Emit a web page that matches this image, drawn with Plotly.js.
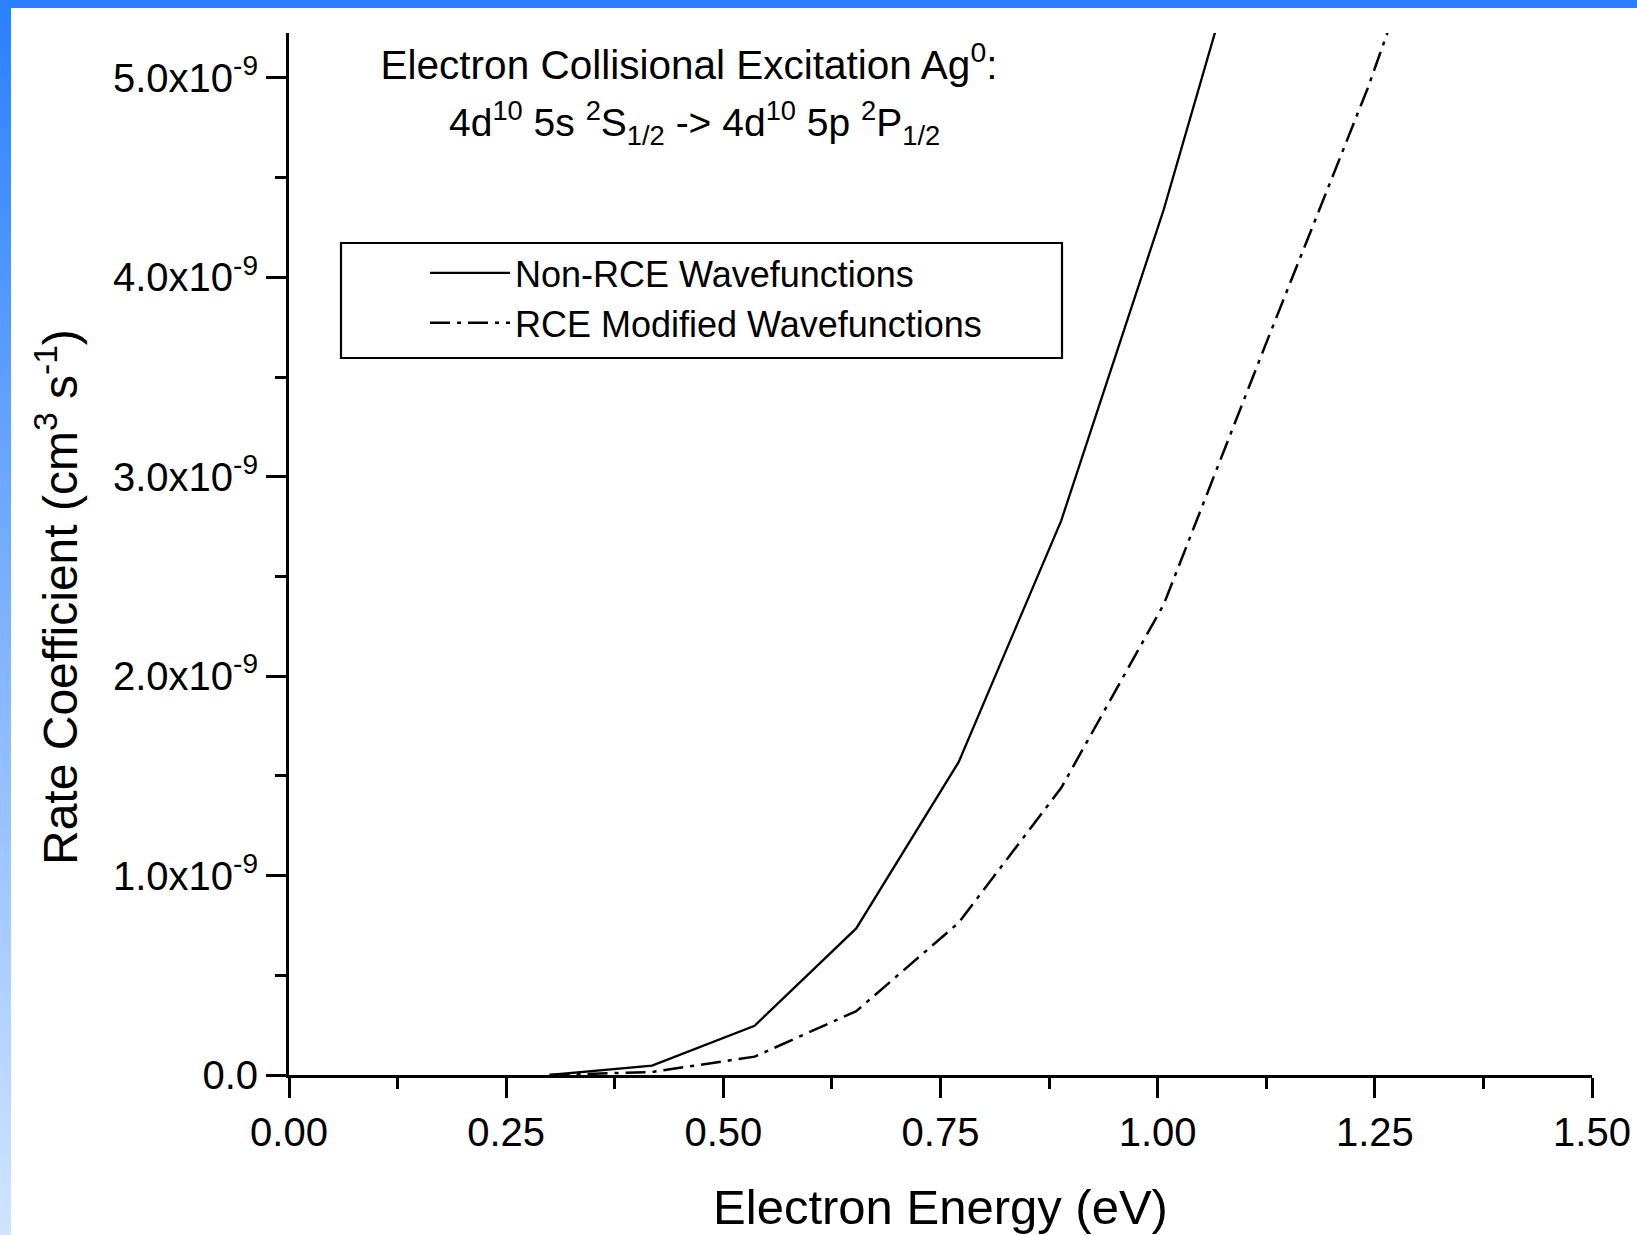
<!DOCTYPE html>
<html>
<head>
<meta charset="utf-8">
<script src="https://cdn.plot.ly/plotly-3.0.1.min.js"></script>
<style>
  html, body { margin: 0; padding: 0; width: 1637px; height: 1235px; overflow: hidden; }
  body {
    background:
      linear-gradient(#2a80ff, #2a80ff) top left / 100% 8px no-repeat,
      linear-gradient(to bottom, #2a80ff, #d0e4ff) top left / 11px 100% no-repeat,
      #ffffff;
  }
  #chart { position: absolute; left: 0; top: 0; width: 1637px; height: 1235px; }
</style>
</head>
<body>
<div id="chart"></div>
<script>
// ---- data ----
const energy = [0.300, 0.418, 0.536, 0.653, 0.771, 0.889, 1.007, 1.124, 1.242, 1.360];
const nonRCE = [0, 0.047e-9, 0.247e-9, 0.735e-9, 1.57e-9, 2.78e-9, 4.34e-9, 6.10e-9];
const rceModified = [0, 0.015e-9, 0.092e-9, 0.32e-9, 0.764e-9, 1.44e-9, 2.36e-9, 3.66e-9, 4.95e-9, 6.40e-9];
const seriesNames = ["Non-RCE Wavefunctions", "RCE Modified Wavefunctions"];
const xTickVals = [0, 0.25, 0.5, 0.75, 1.0, 1.25, 1.5];
const yTickVals = [0, 1e-9, 2e-9, 3e-9, 4e-9, 5e-9];
const yTickText = ["0.0", "1.0x10<sup>-9</sup>", "2.0x10<sup>-9</sup>", "3.0x10<sup>-9</sup>", "4.0x10<sup>-9</sup>", "5.0x10<sup>-9</sup>"];
const titleLine1 = "Electron Collisional Excitation Ag<sup>0</sup>:";
const titleLine2 = "4d<sup>10</sup> 5s <sup>2</sup>S<sub>1/2</sub> -> 4d<sup>10</sup> 5p <sup>2</sup>P<sub>1/2</sub>";
const xTitle = "Electron Energy (eV)";
const yTitle = "Rate Coefficient (cm<sup>3</sup> s<sup>-1</sup>)";

const FONT = '"Liberation Sans", Arial, Helvetica, sans-serif';

const traces = [
  {
    x: energy.slice(0, nonRCE.length), y: nonRCE, name: seriesNames[0],
    type: 'scatter', mode: 'lines',
    line: { color: '#000', width: 2.3 }
  },
  {
    x: energy.slice(0, rceModified.length), y: rceModified, name: seriesNames[1],
    type: 'scatter', mode: 'lines',
    line: { color: '#000', width: 2.5, dash: '20px,7px,4px,7px' }
  }
];

const axisCommon = {
  ticks: 'outside', ticklen: 20, tickwidth: 3, tickcolor: '#000',
  showline: true, linewidth: 3, linecolor: '#000',
  showgrid: false, zeroline: false,
  tickfont: { family: FONT, size: 40, color: '#000' }
};

const layout = {
  width: 1637, height: 1235,
  margin: { l: 289, r: 45, t: 33, b: 160, pad: 0 },
  paper_bgcolor: 'rgba(0,0,0,0)',
  plot_bgcolor: 'rgba(0,0,0,0)',
  font: { family: FONT, color: '#000' },
  showlegend: true,
  title: {
    text: titleLine1,
    font: { family: FONT, size: 40.5, color: '#000' },
    xref: 'container', yref: 'container',
    x: 689 / 1637, xanchor: 'center',
    y: 1 - 65 / 1235, yanchor: 'middle'
  },
  xaxis: Object.assign({}, axisCommon, {
    range: [0, 1.5],
    tickmode: 'array', tickvals: xTickVals, tickformat: '.2f',
    minor: { tickmode: 'linear', tick0: 0, dtick: 0.125, ticks: 'outside', ticklen: 11, tickwidth: 3, tickcolor: '#000', showgrid: false },
    title: { text: xTitle, font: { family: FONT, size: 49, color: '#000' }, standoff: 37 }
  }),
  yaxis: Object.assign({}, axisCommon, {
    range: [0, 5.225e-9],
    tickmode: 'array', tickvals: yTickVals, ticktext: yTickText,
    minor: { tickmode: 'linear', tick0: 0, dtick: 0.5e-9, ticks: 'outside', ticklen: 11, tickwidth: 3, tickcolor: '#000', showgrid: false },
    title: { text: '' }
  }),
  legend: {
    x: (425 - 289) / 1303, xanchor: 'left',
    y: (1075 - 243) / 1042, yanchor: 'top',
    bgcolor: 'rgba(0,0,0,0)', borderwidth: 0,
    itemwidth: 80,
    font: { family: FONT, size: 36, color: '#000' },
    traceorder: 'normal'
  },
  shapes: [
    {
      type: 'rect', xref: 'paper', yref: 'paper',
      x0: (341 - 289) / 1303, x1: (1062 - 289) / 1303,
      y0: (1075 - 358) / 1042, y1: (1075 - 243) / 1042,
      line: { color: '#000', width: 2.2 }, fillcolor: 'rgba(0,0,0,0)'
    }
  ],
  annotations: [
    {
      text: titleLine2, showarrow: false,
      xref: 'paper', yref: 'paper',
      x: (694 - 289) / 1303, xanchor: 'center',
      y: (1075 - 123) / 1042, yanchor: 'middle',
      font: { family: FONT, size: 39, color: '#000' }
    },
    {
      text: yTitle, showarrow: false, textangle: -90,
      xref: 'paper', yref: 'paper',
      x: (57 - 289) / 1303, xanchor: 'center',
      y: (1075 - 597) / 1042, yanchor: 'middle',
      font: { family: FONT, size: 48, color: '#000' }
    }
  ]
};

Plotly.newPlot('chart', traces, layout, { displayModeBar: false, staticPlot: true });
</script>
</body>
</html>
